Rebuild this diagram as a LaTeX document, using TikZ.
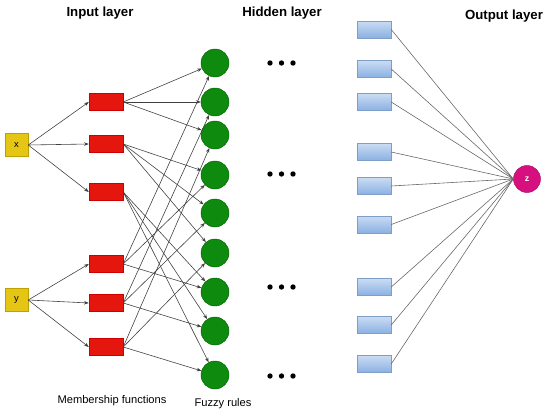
\documentclass[tikz,border=0pt]{standalone}
\usepackage{fontspec}
\setmainfont{Liberation Sans}
\usetikzlibrary{arrows.meta}
\definecolor{inyellow}{RGB}{230,198,20}
\definecolor{inborder}{RGB}{190,160,0}
\definecolor{mfred}{RGB}{228,22,14}
\definecolor{rulegreen}{RGB}{14,138,14}
\definecolor{hidtop}{RGB}{202,220,244}
\definecolor{hidbot}{RGB}{138,176,226}
\definecolor{hidborder}{RGB}{125,158,200}
\definecolor{outpink}{RGB}{214,16,126}
\begin{document}
\begin{tikzpicture}[
        x=0.03cm, y=-0.03cm,
        >={Stealth[length=4pt,width=3pt]},
        layertitle/.style={font=\fontsize{11.3}{13}\selectfont\bfseries},
        caption/.style={font=\fontsize{9.5}{11}\selectfont},
        inbox/.style={draw=inborder, fill=inyellow, minimum size=0.69cm, inner sep=0pt, font=\fontsize{8}{9}\selectfont},
        mfbox/.style={draw=red!80!black, fill=mfred, minimum width=1.02cm, minimum height=0.51cm, inner sep=0pt},
        fuzzy/.style={circle, draw=green!40!black, fill=rulegreen, minimum size=0.84cm, inner sep=0pt},
        hidbox/.style={draw=hidborder, top color=hidtop, bottom color=hidbot, minimum width=1.02cm, minimum height=0.51cm, inner sep=0pt},
        outcirc/.style={circle, draw=outpink!80!black, fill=outpink, text=white, minimum size=0.81cm, inner sep=0pt, font=\fontsize{7.5}{8}\selectfont\bfseries},
        arr/.style={->, line width=0.5pt, black!75},
        link/.style={line width=0.5pt, black!60}
    ]
        \useasboundingbox (0,0) rectangle (550,416);

        % Layer titles
        \node[layertitle] (tin) at (100,13) {Input layer};
        \node[layertitle] (thid) at (282,13) {Hidden layer};
        \node[layertitle] (tout) at (504,16) {Output layer};

        % Inputs
        \node[inbox] (x) at (16.5,145) {x};
        \node[inbox] (y) at (16.5,300) {y};

        % Membership functions
        \node[mfbox] (r1) at (106,102) {};
        \node[mfbox] (r2) at (106,144) {};
        \node[mfbox] (r3) at (106,192) {};
        \node[mfbox] (r4) at (106,264) {};
        \node[mfbox] (r5) at (106,303) {};
        \node[mfbox] (r6) at (106,347) {};

        % Fuzzy rules
        \node[fuzzy] (g1) at (215,63) {};
        \node[fuzzy] (g2) at (215,102) {};
        \node[fuzzy] (g3) at (215,135) {};
        \node[fuzzy] (g4) at (215,175) {};
        \node[fuzzy] (g5) at (215,213) {};
        \node[fuzzy] (g6) at (215,253) {};
        \node[fuzzy] (g7) at (215,292) {};
        \node[fuzzy] (g8) at (215,331) {};
        \node[fuzzy] (g9) at (215,375) {};

        % Hidden units
        \node[hidbox] (h1) at (374,29.5) {};
        \node[hidbox] (h2) at (374,69) {};
        \node[hidbox] (h3) at (374,102) {};
        \node[hidbox] (h4) at (374,152) {};
        \node[hidbox] (h5) at (374,186) {};
        \node[hidbox] (h6) at (374,224.5) {};
        \node[hidbox] (h7) at (374,287) {};
        \node[hidbox] (h8) at (374,325) {};
        \node[hidbox] (h9) at (374,364) {};

        % Output
        \node[outcirc] (z) at (527,179) {z};

        % Ellipses
        \fill (270,63) circle (0.08cm) (281.5,63) circle (0.08cm) (293,63) circle (0.08cm);
        \fill (270,174) circle (0.08cm) (281.5,174) circle (0.08cm) (293,174) circle (0.08cm);
        \fill (270,287) circle (0.08cm) (281.5,287) circle (0.08cm) (293,287) circle (0.08cm);
        \fill (270,376) circle (0.08cm) (281.5,376) circle (0.08cm) (293,376) circle (0.08cm);

        % Inputs to membership functions
        \draw[arr] (x.east) -- (r1.west);
        \draw[arr] (x.east) -- (r2.west);
        \draw[arr] (x.east) -- (r3.west);
        \draw[arr] (y.east) -- (r4.west);
        \draw[arr] (y.east) -- (r5.west);
        \draw[arr] (y.east) -- (r6.west);

        % Membership functions to rules
        \draw[arr] (r1.east) -- (g1);
        \draw[arr] (r1.east) -- (g2);
        \draw[arr] (r1.east) -- (g3);
        \draw[arr] (r2.east) -- (g4);
        \draw[arr] (r2.east) -- (g5);
        \draw[arr] (r2.east) -- (g6);
        \draw[arr] (r3.east) -- (g7);
        \draw[arr] (r3.east) -- (g8);
        \draw[arr] (r3.east) -- (g9);
        \draw[arr] (r4.east) -- (g1);
        \draw[arr] (r4.east) -- (g4);
        \draw[arr] (r4.east) -- (g7);
        \draw[arr] (r5.east) -- (g2);
        \draw[arr] (r5.east) -- (g5);
        \draw[arr] (r5.east) -- (g8);
        \draw[arr] (r6.east) -- (g3);
        \draw[arr] (r6.east) -- (g6);
        \draw[arr] (r6.east) -- (g9);

        % Hidden units to output
        \draw[link] (h1.east) -- (z.west);
        \draw[link] (h2.east) -- (z.west);
        \draw[link] (h3.east) -- (z.west);
        \draw[link] (h4.east) -- (z.west);
        \draw[link] (h5.east) -- (z.west);
        \draw[link] (h6.east) -- (z.west);
        \draw[link] (h7.east) -- (z.west);
        \draw[link] (h8.east) -- (z.west);
        \draw[link] (h9.east) -- (z.west);

        % Captions
        \node[caption] (cmf) at (112,401) {Membership functions};
        \node[caption] (crule) at (223,404) {Fuzzy rules};
    \end{tikzpicture}
\end{document}
